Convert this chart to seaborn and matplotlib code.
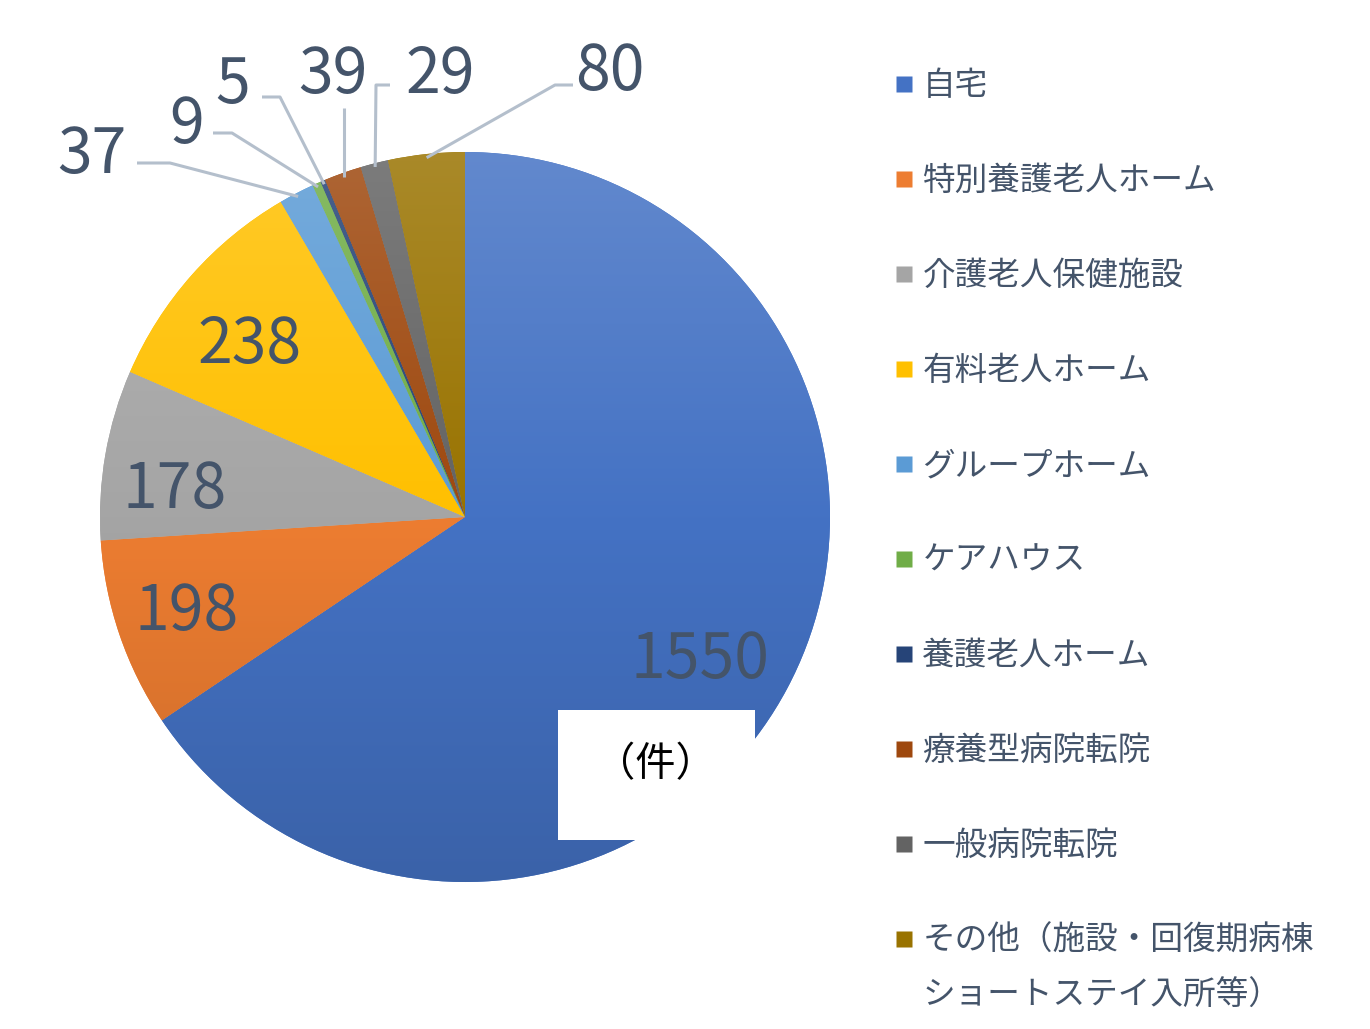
import numpy as np
import matplotlib
matplotlib.use("Agg")
import matplotlib.pyplot as plt
import seaborn as sns
from matplotlib.colors import LinearSegmentedColormap, to_rgb
from matplotlib.lines import Line2D
from matplotlib.patches import Rectangle

sns.set_theme(style="white")
plt.rcParams['font.family'] = ['Noto Sans CJK JP', 'DejaVu Sans']

# ---- data ----
categories = ["自宅", "特別養護老人ホーム", "介護老人保健施設", "有料老人ホーム",
              "グループホーム", "ケアハウス", "養護老人ホーム", "療養型病院転院",
              "一般病院転院", "その他（施設・回復期病棟\nショートステイ入所等）"]
values = [1550, 198, 178, 238, 37, 9, 5, 39, 29, 80]
unit_label = "（件）"

# ---- style ----
colors = ["#4472C4", "#ED7D31", "#A5A5A5", "#FFC000", "#5B9BD5",
          "#70AD47", "#264478", "#9E480E", "#636363", "#997300"]
text_color = "#44546A"
leader_color = "#B4BFCC"

W, H, DPI = 13.7, 10.29, 100
CX, CY, R = 465, 517, 365  # pie centre/radius in pixels


def px(x, y):
    return ((x - CX) / R, (CY - y) / R)


fig = plt.figure(figsize=(W, H), dpi=DPI)
fig.patch.set_facecolor("white")
ax = fig.add_axes([0, 0, 930 / 1370, 1])
ax.set_axis_off()

wedges, _ = ax.pie(values, startangle=90, counterclock=False, radius=1,
                   colors=colors, wedgeprops=dict(linewidth=0))

# gradient fills
grad = np.linspace(0, 1, 256).reshape(-1, 1)
for w, c in zip(wedges, colors):
    base = np.array(to_rgb(c))
    light = base + (1 - base) * 0.16
    dark = base * 0.86
    cmap = LinearSegmentedColormap.from_list("g", [dark, base, light])
    im = ax.imshow(grad, extent=[-1, 1, -1, 1], origin="lower", cmap=cmap,
                   aspect="auto", zorder=2, interpolation="bilinear")
    im.set_clip_path(w)

ax.set_xlim(-CX / R, (930 - CX) / R)
ax.set_ylim(-(1029 - CY) / R, CY / R)

# inner labels (index -> pixel centre)
inner = {0: (700, 660), 1: (187, 612), 2: (175, 490), 3: (250, 345)}
for i, (x, y) in inner.items():
    tx, ty = px(x, y)
    ax.text(tx, ty, str(values[i]), ha="center", va="center",
            fontsize=45, color=text_color, zorder=5)

# outside labels: index -> (text centre, leader start, elbow)
outer = {
    4: ((92, 155), (137, 163), (170, 163)),
    5: ((187, 125), (213, 133), (232, 133)),
    6: ((233, 85), (262, 97), (280, 97)),
    7: ((333, 75), (343, 108), (343, 110)),
    8: ((440, 75), (390, 85), (376, 85)),
    9: ((610, 72), (573, 85), (555, 85)),
}
for i, (tc, ls, el) in outer.items():
    w = wedges[i]
    mid = np.deg2rad((w.theta1 + w.theta2) / 2)
    ax_, ay_ = np.cos(mid) * 0.99, np.sin(mid) * 0.99
    p1, p2 = px(*ls), px(*el)
    if i == 7:
        p2 = (ax_, p1[1])
        p1 = (ax_, p1[1])
    ax.plot([p1[0], p2[0], ax_], [p1[1], p2[1], ay_], color=leader_color,
            lw=2.2, zorder=4, solid_capstyle="butt")
    tx, ty = px(*tc)
    ax.text(tx, ty, str(values[i]), ha="center", va="center",
            fontsize=45, color=text_color, zorder=5)

# unit box
fig.patches.append(Rectangle((558 / 1370, 1 - 840 / 1029), 197 / 1370, 130 / 1029,
                             transform=fig.transFigure, facecolor="white",
                             edgecolor="none", zorder=10))
fig.text(655 / 1370, 1 - 765 / 1029, unit_label, ha="center", va="center",
         fontsize=29, color="black", zorder=11)

# legend (first line of each label; continuation line drawn beneath)
first_lines = [c.split("\n")[0] for c in categories]
handles = [Line2D([], [], marker="s", linestyle="none", markersize=11.5,
                  markerfacecolor=c, markeredgecolor="none") for c in colors]
leg = fig.legend(handles, first_lines, loc="upper left",
                 bbox_to_anchor=(893 / 1370, 1 - 70 / 1029), frameon=False,
                 fontsize=23.5, labelcolor=text_color, handlelength=0.7,
                 handletextpad=0.2, labelspacing=1.93, borderpad=0,
                 borderaxespad=0)

fig.canvas.draw()
renderer = fig.canvas.get_renderer()
last_txt = leg.get_texts()[-1]
bb = last_txt.get_window_extent(renderer)
for k, extra in enumerate(categories[-1].split("\n")[1:], start=1):
    fig.text(bb.x0 / fig.bbox.width, (bb.y0 + bb.height / 2 - 55 * k) / fig.bbox.height,
             extra, ha="left", va="center", fontsize=23.5, color=text_color)

fig.savefig("out.png", dpi=DPI)
